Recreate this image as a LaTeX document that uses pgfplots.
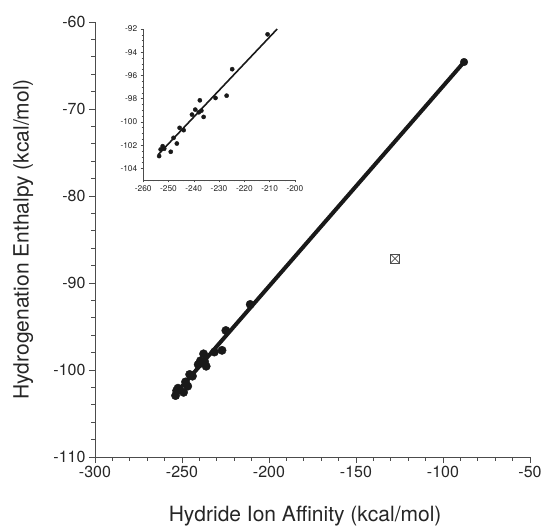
\documentclass[border=0pt]{standalone}
\usepackage{fontspec}
\setmainfont{TeX Gyre Heros}
\usepackage{pgfplots}
\usepackage{pgfplotstable}
\pgfplotsset{compat=1.18}

% hydride ion affinity vs hydrogenation enthalpy (kcal/mol)
\pgfplotstableread{
x       y
-210.8  -92.46
-224.8  -95.46
-227.0  -97.74
-231.4  -97.94
-237.6  -98.14
-239.4  -98.94
-240.7  -99.37
-238.0  -99.17
-237.0  -99.03
-236.1  -99.57
-245.6  -100.51
-244.0  -100.71
-248.0  -101.37
-246.7  -101.86
-252.3  -102.09
-249.1  -102.57
-253.1  -102.37
-251.7  -102.31
-253.7  -102.94
}\hia

\begin{document}
\begin{tikzpicture}
\path[use as bounding box] (-95pt,-70pt) rectangle (448pt,457pt);
\begin{axis}[
  scale only axis, width=435pt, height=435pt,
  xmin=-300, xmax=-50, ymin=-110, ymax=-60,
  axis x line*=bottom, axis y line*=left,
  axis line style={-, line width=0.8pt, black!70},
  xtick={-300,-250,...,-50}, ytick={-110,-100,...,-60},
  minor x tick num=4, minor y tick num=4,
  tick align=outside, major tick length=6pt, minor tick length=3.5pt,
  tick style={line width=0.8pt, black!70},
  ticklabel style={font=\fontsize{16}{18}\selectfont, text=black!85},
  /pgf/number format/assume math mode=true,
  xlabel={Hydride Ion Affinity (kcal/mol)},
  ylabel={Hydrogenation Enthalpy (kcal/mol)},
  label style={font=\fontsize{21}{25}\selectfont, text=black!85},
  xlabel style={at={(axis description cs:0.483,-0.136)}, anchor=center},
  ylabel style={at={(axis description cs:-0.165,0.5)}, anchor=center},
]
\addplot[black!90, line width=4pt] coordinates {(-254,-102.8) (-87.9,-64.6)};
\addplot[only marks, mark=*, mark size=4.2pt, black!90] table {\hia};
\addplot[only marks, mark=*, mark size=3.8pt, black!90] coordinates {(-87.9,-64.6)};
\addplot[only marks, mark=square, mark size=4.3pt, black!70, mark options={line width=0.7pt}] coordinates {(-127.6,-87.2)};
\addplot[only marks, mark=x, mark size=6.1pt, black!70, mark options={line width=0.7pt}] coordinates {(-127.6,-87.2)};
\end{axis}

% inset
\begin{axis}[
  at={(48.2pt,277pt)},
  scale only axis, width=151.7pt, height=151pt,
  xmin=-260, xmax=-200, ymin=-105, ymax=-92,
  axis x line*=bottom, axis y line*=left,
  axis line style={-, line width=0.5pt, black!70},
  xtick={-260,-250,...,-200}, ytick={-104,-102,...,-92},
  minor x tick num=4, minor y tick num=3,
  tick align=outside, major tick length=2.5pt, minor tick length=1.5pt,
  tick style={line width=0.5pt, black!70},
  ticklabel style={font=\fontsize{8.3}{10}\selectfont, text=black!85},
  /pgf/number format/assume math mode=true,
]
\addplot[black!90, line width=1.6pt] coordinates {(-254,-102.8) (-207,-92)};
\addplot[only marks, mark=*, mark size=2.1pt, black!90] table {\hia};
\end{axis}
\end{tikzpicture}
\end{document}
